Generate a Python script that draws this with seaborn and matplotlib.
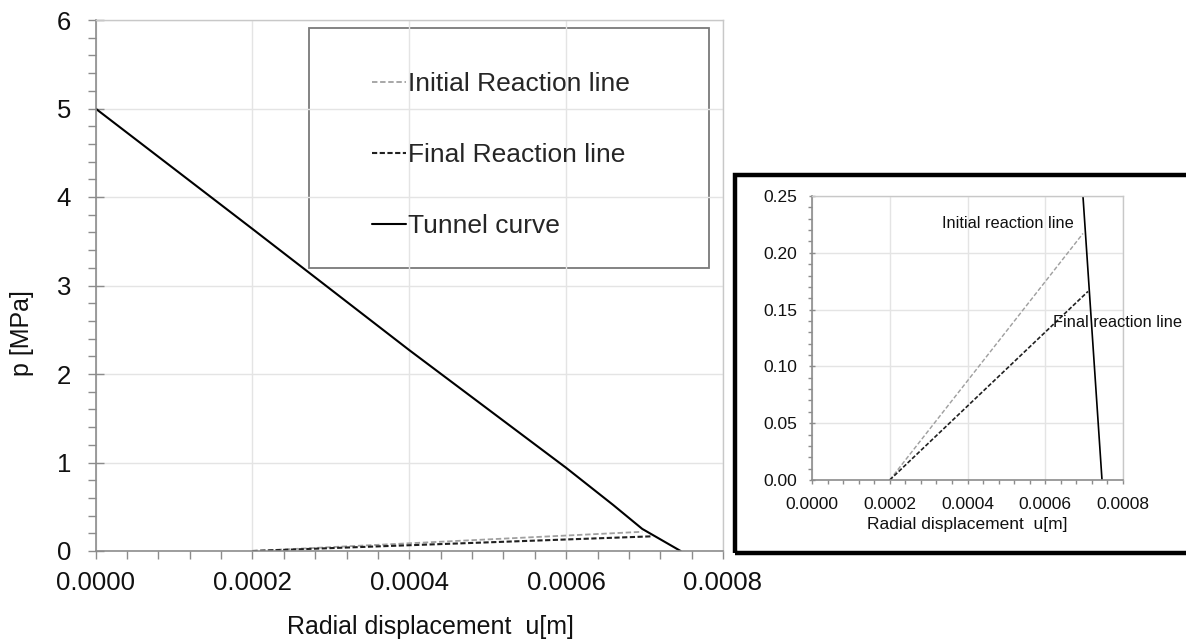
import numpy as np
import pandas as pd
import matplotlib
matplotlib.use("Agg")
import matplotlib.pyplot as plt
import matplotlib.ticker as mticker
from matplotlib.patches import Rectangle
import seaborn as sns

# ---- data ----
tunnel_u = [0.0, 0.0002, 0.0004, 0.0006, 0.00066, 0.000697, 0.000746]
tunnel_p = [5.0, 3.64, 2.27, 0.94, 0.52, 0.25, 0.0]
initial_u = [0.0002, 0.000697]
initial_p = [0.0, 0.217]
final_u = [0.0002, 0.00071]
final_p = [0.0, 0.166]

legend_labels = ["Initial Reaction line", "Final Reaction line", "Tunnel curve"]
inset_labels = ["Initial reaction line", "Final reaction line"]

sns.set_theme(style="white")
plt.rcParams["font.family"] = ["Liberation Sans", "DejaVu Sans"]

fig = plt.figure(figsize=(11.86, 6.44), dpi=100)

GRID = "#e4e4e4"
SPINE = "#8c8c8c"

df_t = pd.DataFrame({"u": tunnel_u, "p": tunnel_p})
df_i = pd.DataFrame({"u": initial_u, "p": initial_p})
df_f = pd.DataFrame({"u": final_u, "p": final_p})


def draw(ax, lw_scale=1.0):
    sns.lineplot(data=df_i, x="u", y="p", ax=ax, color="#a0a0a0", lw=1.3 * lw_scale,
                 linestyle=(0, (3, 1.5)), sort=False, estimator=None, label=legend_labels[0])
    sns.lineplot(data=df_f, x="u", y="p", ax=ax, color="#202020", lw=1.5 * lw_scale,
                 linestyle=(0, (2.5, 1.2)), sort=False, estimator=None, label=legend_labels[1])
    sns.lineplot(data=df_t, x="u", y="p", ax=ax, color="black", lw=1.5 * lw_scale,
                 sort=False, estimator=None, label=legend_labels[2])


def style(ax, ymax, ymajor, yminor, fs, tl_major, tl_minor, ypad, xpad):
    ax.set_xlim(0, 0.0008)
    ax.set_ylim(0, ymax)
    ax.xaxis.set_major_locator(mticker.MultipleLocator(0.0002))
    ax.xaxis.set_minor_locator(mticker.MultipleLocator(0.00004))
    ax.yaxis.set_major_locator(mticker.MultipleLocator(ymajor))
    ax.yaxis.set_minor_locator(mticker.MultipleLocator(yminor))
    ax.xaxis.set_major_formatter(mticker.FormatStrFormatter("%.4f"))
    ax.grid(True, which="major", color=GRID, lw=1.0)
    ax.set_axisbelow(True)
    for s in ["top", "right"]:
        ax.spines[s].set_color("#c8c8c8")
        ax.spines[s].set_linewidth(1.0)
    for s in ["left", "bottom"]:
        ax.spines[s].set_color(SPINE)
        ax.spines[s].set_linewidth(1.2)
    ax.tick_params(axis="y", which="major", direction="inout", length=tl_major,
                   width=1.0, color=SPINE, labelsize=fs, pad=ypad, left=True)
    ax.tick_params(axis="y", which="minor", direction="out", length=tl_minor,
                   width=1.0, color=SPINE, left=True)
    ax.tick_params(axis="x", which="both", direction="out", length=tl_minor,
                   width=1.0, color=SPINE, bottom=True)
    ax.tick_params(axis="x", which="major", labelsize=fs, pad=xpad)
    ax.tick_params(labelcolor="#111111")


# ---- main axes ----
ax = fig.add_axes([95.5 / 1186, 1 - 551 / 644, 627.5 / 1186, 531 / 644])
draw(ax)
style(ax, 6, 1, 0.2, 18.5, 11, 5.5, 12, 9)
ax.yaxis.set_major_formatter(mticker.FormatStrFormatter("%d"))
ax.set_xlabel("Radial displacement  u[m]", fontsize=18, color="#111111")
ax.set_ylabel("p [MPa]", fontsize=18, color="#111111")
ax.xaxis.set_label_coords(0.533, -0.12)
ax.yaxis.set_label_coords(-0.098, 0.41)

# legend with separate frame
handles, labels = ax.get_legend_handles_labels()
ax.legend(handles, labels, loc="center left", frameon=False, fontsize=19,
          bbox_to_anchor=(372 / 1186, 1 - 155 / 644), bbox_transform=fig.transFigure,
          borderpad=0, borderaxespad=0, labelspacing=1.78, handlelength=1.3,
          handletextpad=0.05)
fig.add_artist(Rectangle((309 / 1186, 1 - 268 / 644), 400 / 1186, 240 / 644,
                         transform=fig.transFigure, fill=True, facecolor="white",
                         edgecolor="#7a7a7a", lw=1.3, zorder=0.5))
ax.set_zorder(1)
ax.patch.set_alpha(0)

# ---- inset ----
fig.add_artist(Rectangle((735 / 1186, 1 - 553 / 644), 480 / 1186, 378 / 644,
                         transform=fig.transFigure, fill=False,
                         edgecolor="black", lw=3.2, zorder=5))
axi = fig.add_axes([812 / 1186, 1 - 480 / 644, 311 / 1186, 284 / 644])
draw(axi, 0.8)
style(axi, 0.25, 0.05, 0.01, 12.5, 5, 3, 8, 9)
axi.yaxis.set_major_formatter(mticker.FormatStrFormatter("%.2f"))
axi.legend_.remove()
axi.set_xlabel("Radial displacement  u[m]", fontsize=12.5, color="#111111", labelpad=4)
axi.set_ylabel("")
axi.text(0.000673, 0.226, inset_labels[0], fontsize=11.8, ha="right", va="center",
         color="#111111")
axi.text(0.000619, 0.1385, inset_labels[1], fontsize=11.8, ha="left", va="center",
         color="#111111", clip_on=False)

fig.savefig("out.png", dpi=100)
